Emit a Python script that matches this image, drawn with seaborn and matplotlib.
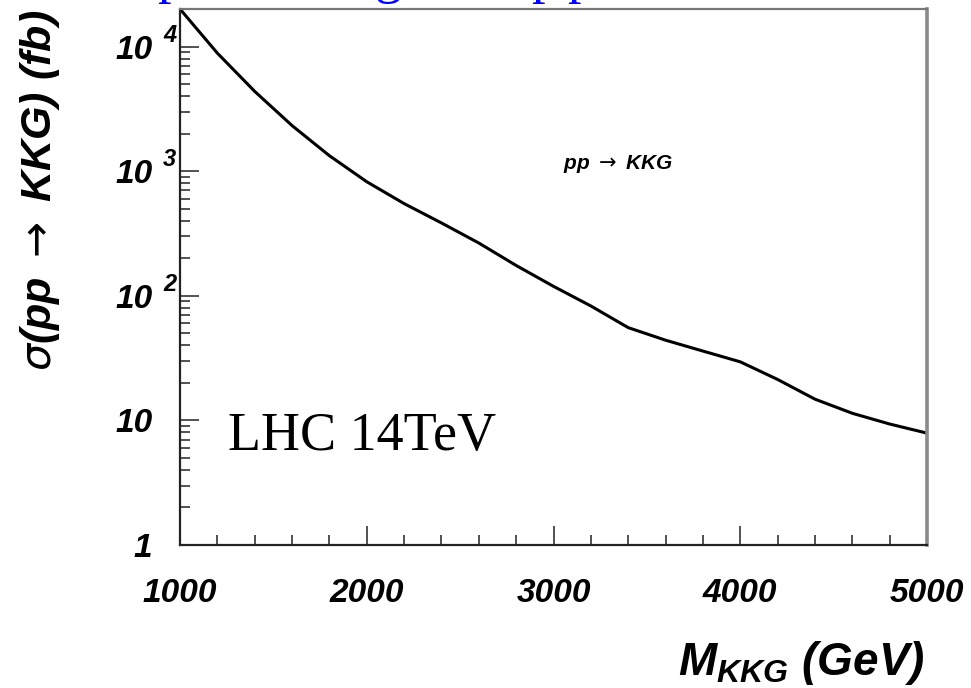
import numpy as np
import pandas as pd
import matplotlib
matplotlib.use("Agg")
import matplotlib.pyplot as plt
import seaborn as sns
from matplotlib.ticker import LogLocator, MultipleLocator, NullFormatter

# KK-gluon production cross section at the LHC (14 TeV)
mass_gev = [1000, 1200, 1400, 1600, 1800, 2000, 2200, 2400, 2600, 2800, 3000,
            3200, 3400, 3600, 3800, 4000, 4200, 4400, 4600, 4800, 5000]
sigma_fb = [20000, 8850, 4365, 2320, 1330, 822, 549, 384, 265, 175, 119,
            82.8, 55.5, 44.0, 36.0, 29.5, 21.3, 14.8, 11.4, 9.35, 7.9]

xtick_vals = [1000, 2000, 3000, 4000, 5000]
xtick_text = ["1000", "2000", "3000", "4000", "5000"]
ytick_vals = [1, 10, 100, 1000, 10000]
ytick_text = ["1", "10", "10", "10", "10"]
ytick_exp = ["", "", "2", "3", "4"]

sns.set_theme(style="ticks")
plt.rcParams.update({
    "font.family": ["Liberation Sans", "DejaVu Sans"],
    "font.weight": "bold",
    "font.style": "italic",
    "text.color": "black",
    "axes.labelcolor": "black",
    "xtick.color": "black",
    "ytick.color": "black",
    "mathtext.fontset": "custom",
    "mathtext.it": "Liberation Sans:bold:italic",
    "mathtext.rm": "DejaVu Sans:normal",
    "mathtext.bf": "Liberation Sans:bold",
    "axes.unicode_minus": False,
})

fig = plt.figure(figsize=(9.71, 6.88), dpi=100)
fig.patch.set_facecolor("white")
ax = fig.add_axes([0.18538, 0.20785, 0.76931, 0.77907])
ax.set_facecolor("white")

df = pd.DataFrame({"mass": mass_gev, "sigma": sigma_fb})
sns.lineplot(data=df, x="mass", y="sigma", ax=ax, color="black",
             linewidth=2.2, legend=False)

ax.set_yscale("log")
ax.set_xlim(1000, 5000)
ax.set_ylim(1, 2.0e4)

# axis frame
for side in ("left", "bottom"):
    ax.spines[side].set_color("#222222")
    ax.spines[side].set_linewidth(1.6)
ax.spines["top"].set_color("#777777")
ax.spines["top"].set_linewidth(1.6)
ax.spines["right"].set_color("#8a8a8a")
ax.spines["right"].set_linewidth(2.6)

# ticks
ax.set_xticks(xtick_vals, labels=xtick_text)
ax.xaxis.set_minor_locator(MultipleLocator(200))
ax.set_yticks(ytick_vals, labels=ytick_text)
ax.yaxis.set_minor_locator(LogLocator(base=10, subs=np.arange(2, 10)))
ax.yaxis.set_minor_formatter(NullFormatter())

ax.tick_params(axis="both", which="major", direction="in", length=14,
               width=1.2, color="#333333", labelcolor="black",
               top=False, right=False)
ax.tick_params(axis="both", which="minor", direction="in", length=7,
               width=1.2, color="#333333", top=False, right=False)
ax.tick_params(axis="x", which="major", pad=24)
ax.tick_params(axis="y", which="major", pad=20)
for lab in ax.get_xticklabels() + ax.get_yticklabels():
    lab.set_fontsize(24)
    lab.set_fontweight("bold")
    lab.set_fontstyle("italic")
    lab.set_color("black")

# decade exponents next to the "10" labels
for val, e in zip(ytick_vals, ytick_exp):
    if e:
        ax.text(-0.0228, val * 10 ** 0.092, e, transform=ax.get_yaxis_transform(),
                ha="left", va="center", fontsize=17, fontweight="bold",
                fontstyle="italic", color="black", clip_on=False)

# axis titles
ax.set_xlabel(r"$M_{KKG}$ (GeV)", fontsize=33, fontweight="bold",
              fontstyle="italic", ha="right", va="baseline", color="black")
ax.xaxis.set_label_coords(0.997, -0.2425)
ax.set_ylabel(r"$\mathrm{\sigma}$(pp $\rightarrow$ KKG) (fb)", fontsize=31,
              fontweight="bold", fontstyle="italic", va="center", ha="center",
              color="black")
ax.yaxis.set_label_coords(-0.187, 0.662)

# annotations
ax.text(0.586, 0.711, r"pp $\rightarrow$ KKG", transform=ax.transAxes,
        ha="center", va="center", fontsize=15, fontweight="bold",
        fontstyle="italic", color="black")
ax.text(0.064, 0.177, "LHC 14TeV", transform=ax.transAxes, ha="left",
        va="baseline", fontsize=39, family="Liberation Serif",
        fontweight="normal", fontstyle="normal", color="black")

# slide heading running off the top edge
for xc, ch in zip([171, 388, 545, 581], ["p", "g", "p", "p"]):
    fig.text(xc / 971, 1 + 8 / 688, ch, ha="center", va="baseline",
             fontsize=39, family="Liberation Serif", fontweight="normal",
             fontstyle="normal", color="#0000ff")

fig.savefig("out.png", dpi=100, facecolor="white")
